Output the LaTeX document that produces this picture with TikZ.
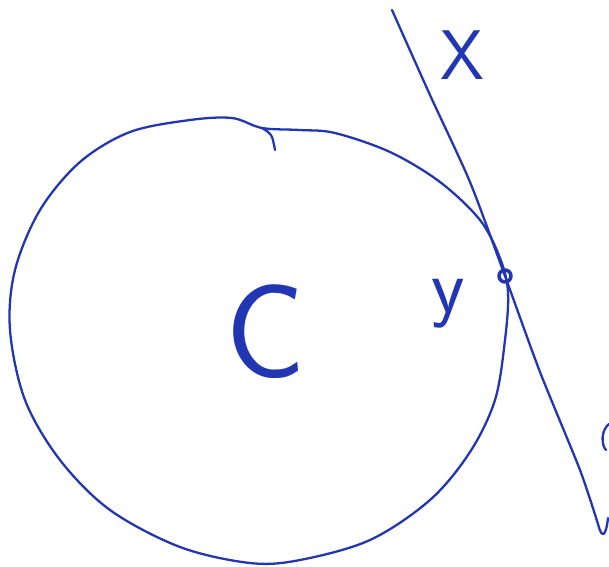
\documentclass[tikz,border=0pt]{standalone}
\usepackage{tikz}
\usetikzlibrary{calc}
\definecolor{pen}{HTML}{2236B4}

\begin{document}
\begin{tikzpicture}[x=0.02cm,y=-0.02cm,
   stroke/.style={draw=pen,line width=1.3pt,line cap=round,line join=round},
   lbl/.style={pen,inner sep=0pt,font=\sffamily}]
\useasboundingbox (0,0) rectangle (609,566);
% the circle
\draw[stroke] plot[smooth cycle,tension=0.55] coordinates {
  (190,120) (232,118) (262,128) (300,130) (335,133) (390,152) (440,182)
  (480,220) (500,258) (508,292) (505,340) (495,400) (470,452) (430,500)
  (370,540) (300,560) (250,563) (180,547) (110,510) (60,460) (25,400)
  (10,330) (15,270) (40,210) (80,162) (130,132)};
% tick on top
\draw[stroke] (262,128) .. controls (272,134) .. (275,150);
% tangent line
\coordinate (tp) at (505,276);
\draw[stroke] plot[smooth,tension=0.4] coordinates {
  (392,10) (430,95) (470,182) (tp) (540,372) (580,470) (598,524)};
\draw[stroke] (598,524) .. controls (602,540) and (606,536) .. (608,518);
% contact mark
\draw[stroke,line width=2pt] (tp) circle (6);
% labels
\node[lbl,font=\sffamily\fontsize{40}{40}\selectfont] (labX) at (462,55) {X};
\node[lbl,font=\sffamily\fontsize{76}{76}\selectfont] (labC) at (266,332) {C};
\node[lbl,font=\sffamily\fontsize{44}{44}\selectfont] (labY) at (448,304) {y};
% cut-off letter at the edge
\draw[stroke] (609,424) .. controls (601,430) and (601,445) .. (606,450);
\end{tikzpicture}
\end{document}
